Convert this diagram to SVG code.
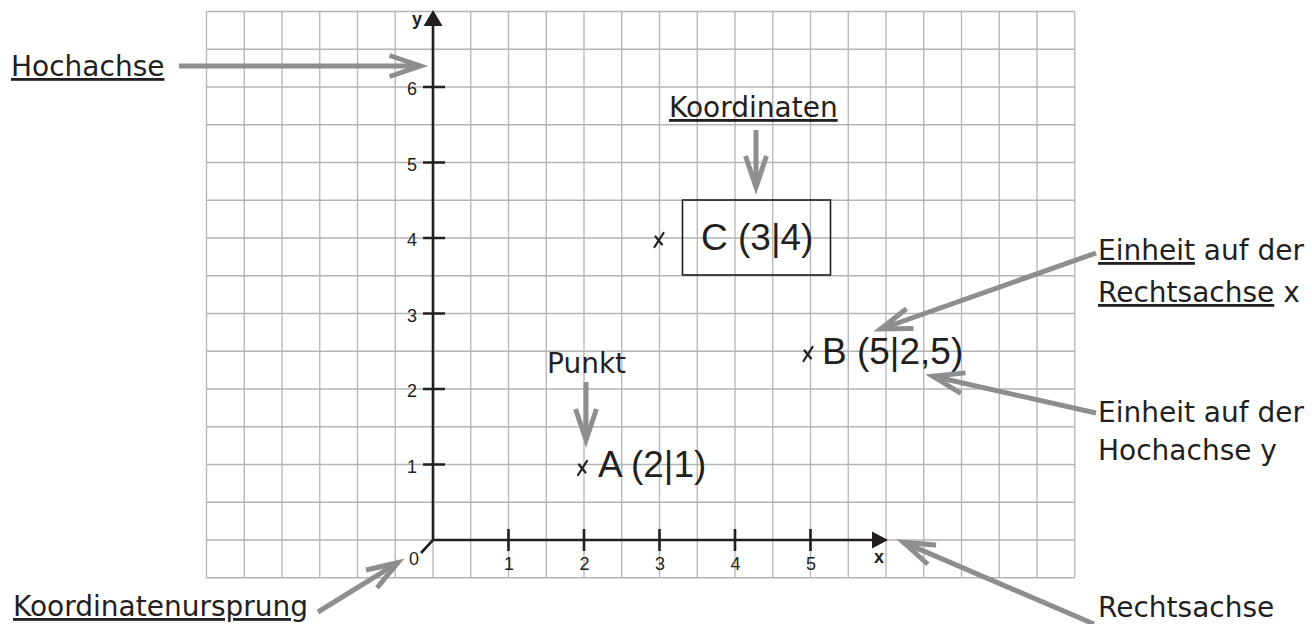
<svg xmlns="http://www.w3.org/2000/svg" width="1312" height="624" viewBox="0 0 1312 624">
  <style>
    .grid { fill: none; stroke: #b4b4b4; stroke-width: 1.3; }
    .axis { fill: none; stroke: #231f20; stroke-width: 2.6; }
    .axhead { fill: #231f20; }
    .tick { font-family: "Liberation Sans", Arial, sans-serif; font-size: 18px; fill: #231f20; text-anchor: middle; }
    .axlbl { font-family: "Liberation Sans", Arial, sans-serif; font-size: 18px; font-weight: bold; fill: #231f20; text-anchor: middle; }
    .lbl { font-family: "DejaVu Sans", Verdana, sans-serif; font-size: 28px; fill: #231f20; }
    .u { text-decoration: underline; }
    .pt { font-family: "Liberation Sans", Arial, sans-serif; font-size: 37px; fill: #231f20; }
    .mark { fill: none; stroke: #231f20; stroke-width: 2.2; stroke-linecap: round; }
    .conn { fill: none; stroke: #8d8e90; stroke-width: 5; marker-end: url(#chev); }
    .box { fill: none; stroke: #231f20; stroke-width: 1.6; }
  </style>
  <defs>
    <marker id="chev" markerUnits="userSpaceOnUse" viewBox="-40 -16 48 32" refX="0" refY="0" markerWidth="48" markerHeight="32" orient="auto" overflow="visible">
      <path d="M-31,-10.5 L0,0 L-31,10.5" fill="none" stroke="#8d8e90" stroke-width="5"/>
    </marker>
    <path id="xmark" d="M-4.5,7 L4.5,-7 M-3.5,-3.5 L3,4.5"/>
  </defs>
  <rect x="0" y="0" width="1312" height="624" fill="#ffffff"/>

  <g id="grid">
    <path class="grid" d="M206.5,11.5V577.75 M244.25,11.5V577.75 M282,11.5V577.75 M319.75,11.5V577.75 M357.5,11.5V577.75 M395.25,11.5V577.75 M433,11.5V577.75 M470.75,11.5V577.75 M508.5,11.5V577.75 M546.25,11.5V577.75 M584,11.5V577.75 M621.75,11.5V577.75 M659.5,11.5V577.75 M697.25,11.5V577.75 M735,11.5V577.75 M772.75,11.5V577.75 M810.5,11.5V577.75 M848.25,11.5V577.75 M886,11.5V577.75 M923.75,11.5V577.75 M961.5,11.5V577.75 M999.25,11.5V577.75 M1037,11.5V577.75 M1074.75,11.5V577.75
      M206.5,11.5H1074.75 M206.5,49.25H1074.75 M206.5,87H1074.75 M206.5,124.75H1074.75 M206.5,162.5H1074.75 M206.5,200.25H1074.75 M206.5,238H1074.75 M206.5,275.75H1074.75 M206.5,313.5H1074.75 M206.5,351.25H1074.75 M206.5,389H1074.75 M206.5,426.75H1074.75 M206.5,464.5H1074.75 M206.5,502.25H1074.75 M206.5,540H1074.75 M206.5,577.75H1074.75"/>
  </g>

  <g id="axes">
    <path class="axis" d="M433,540V25 M433,540H873 M433,540L421,553"/>
    <path class="axhead" d="M433,10L442.5,26H423.5Z"/>
    <path class="axhead" d="M888,540L872,531.5V548.5Z"/>
    <path class="axis" d="M423,87H445 M423,162.5H445 M423,238H445 M423,313.5H445 M423,389H445 M423,464.5H445 M508.5,529V551 M584,529V551 M659.5,529V551 M735,529V551 M810.5,529V551"/>
    <text class="axlbl" x="417" y="25">y</text>
    <text class="axlbl" x="879" y="563">x</text>
    <text class="tick" x="412" y="95">6</text>
    <text class="tick" x="412" y="170.5">5</text>
    <text class="tick" x="412" y="246">4</text>
    <text class="tick" x="412" y="321.5">3</text>
    <text class="tick" x="412" y="397">2</text>
    <text class="tick" x="412" y="472.5">1</text>
    <text class="tick" x="414" y="565">0</text>
    <text class="tick" x="509" y="570">1</text>
    <text class="tick" x="584.5" y="570">2</text>
    <text class="tick" x="660" y="570">3</text>
    <text class="tick" x="735.5" y="570">4</text>
    <text class="tick" x="811" y="570">5</text>
  </g>

  <g id="point-A">
    <use href="#xmark" class="mark" x="582.5" y="468"/>
    <text class="pt" x="598" y="477">A (2|1)</text>
  </g>
  <g id="point-B">
    <use href="#xmark" class="mark" x="808" y="354"/>
    <text class="pt" x="822" y="364">B (5|2,5)</text>
  </g>
  <g id="point-C">
    <use href="#xmark" class="mark" x="659" y="240"/>
    <rect class="box" x="682.5" y="200" width="148" height="75"/>
    <text class="pt" x="701" y="250">C (3|4)</text>
  </g>

  <g id="label-hochachse">
    <text class="lbl u" x="11" y="76">Hochachse</text>
  </g>
  <g id="label-koordinaten">
    <text class="lbl u" x="669" y="117">Koordinaten</text>
  </g>
  <g id="label-punkt">
    <text class="lbl" x="547" y="373">Punkt</text>
  </g>
  <g id="label-einheit-x">
    <text class="lbl" x="1098" y="260"><tspan class="u">Einheit</tspan> auf der</text>
    <text class="lbl" x="1098" y="302"><tspan class="u">Rechtsachse</tspan> x</text>
  </g>
  <g id="label-einheit-y">
    <text class="lbl" x="1098" y="422">Einheit auf der</text>
    <text class="lbl" x="1098" y="460">Hochachse y</text>
  </g>
  <g id="label-rechtsachse">
    <text class="lbl" x="1098" y="617">Rechtsachse</text>
  </g>
  <g id="label-ursprung">
    <text class="lbl u" x="13" y="616">Koordinatenursprung</text>
  </g>

  <g id="connectors">
    <line class="conn" x1="179" y1="66" x2="420.5" y2="66"/>
    <line class="conn" x1="756" y1="130" x2="756" y2="187"/>
    <line class="conn" x1="586" y1="382" x2="586" y2="440"/>
    <line class="conn" x1="1096" y1="253" x2="880.7" y2="329"/>
    <line class="conn" x1="1096" y1="413" x2="932.9" y2="376.3"/>
    <line class="conn" x1="1094" y1="624" x2="903.5" y2="542.4"/>
    <line class="conn" x1="318" y1="612" x2="397.9" y2="562.7"/>
  </g>
</svg>
